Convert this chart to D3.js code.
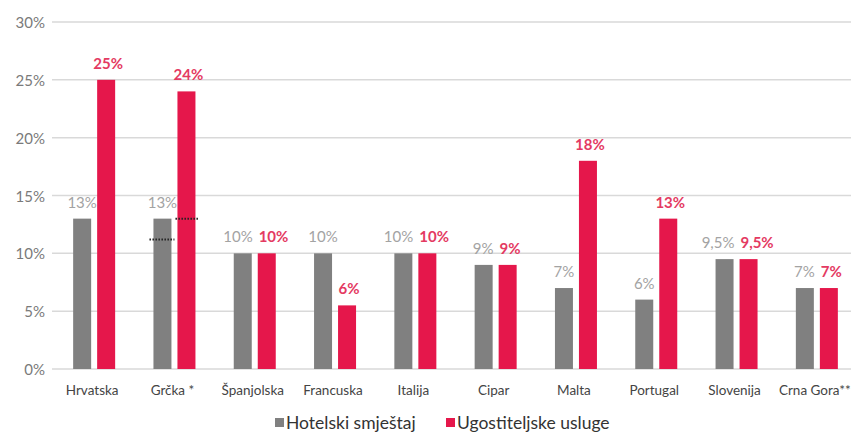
<!DOCTYPE html>
<html>
<head>
<meta charset="utf-8">
<script src="https://cdn.jsdelivr.net/npm/d3@7"></script>
<style>
  body { margin: 0; background: white; }
  svg { display: block; }
</style>
</head>
<body>
<div id="chart"></div>
<script>
// chart values
const countries = ["Hrvatska", "Grčka *", "Španjolska", "Francuska", "Italija", "Cipar", "Malta", "Portugal", "Slovenija", "Crna Gora**"];
const hotelValues = [13, 13, 10, 10, 10, 9, 7, 6, 9.5, 7];
const hotelLabels = ["13%", "13%", "10%", "10%", "10%", "9%", "7%", "6%", "9,5%", "7%"];
const foodValues = [25, 24, 10, 5.5, 10, 9, 18, 13, 9.5, 7];
const foodLabels = ["25%", "24%", "10%", "6%", "10%", "9%", "18%", "13%", "9,5%", "7%"];
const seriesNames = ["Hotelski smještaj", "Ugostiteljske usluge"];
const yTicks = [0, 5, 10, 15, 20, 25, 30];
// dotted reference marks on Grčka (hotel, food)
const greekMarks = [11.2, 13];

const grey = "#808080";
const red = "#e5174b";
const font = "Lato, 'Open Sans', sans-serif";

const width = 862, height = 434;
const mLeft = 52, mRight = 855, mTop = 22, mBottom = 369;
const gridRight = 851;

const svg = d3.select("#chart").append("svg")
    .attr("width", width).attr("height", height);

const x = d3.scaleBand().domain(countries).range([mLeft, mRight]).paddingInner(0).paddingOuter(0);
const y = d3.scaleLinear().domain([0, 30]).range([mBottom, mTop]);

const barW = 18, gap = 6;

// grid + y labels
svg.append("g").selectAll("line").data(yTicks).enter().append("line")
    .attr("x1", mLeft).attr("x2", gridRight)
    .attr("y1", d => y(d)).attr("y2", d => y(d))
    .attr("stroke", "#d9d9d9").attr("stroke-width", 1.5);

svg.append("g").selectAll("text").data(yTicks).enter().append("text")
    .attr("x", 45).attr("y", d => y(d) + 6)
    .attr("text-anchor", "end")
    .attr("font-family", font).attr("font-size", 15)
    .attr("fill", "#7a7a7a")
    .text(d => d + "%");

let gx = d => x(d) + x.bandwidth() / 2 + 2;
let hotelX = d => gx(d) - gap / 2 - barW / 2;
let foodX = d => gx(d) + gap / 2 + barW / 2;

let g = svg.append("g");

// value labels (drawn first so bars sit over them, as in the original)
let hl = g.selectAll(".hl").data(countries).enter().append("text")
    .attr("x", d => hotelX(d))
    .attr("y", (d, i) => y(hotelValues[i]) - 11)
    .attr("text-anchor", "middle")
    .attr("font-family", font).attr("font-size", 15)
    .attr("fill", "#a3a3a3")
    .text((d, i) => hotelLabels[i]);

let fl = g.selectAll(".fl").data(countries).enter().append("text")
    .attr("x", d => foodX(d) + 2)
    .attr("y", (d, i) => y(foodValues[i]) - 11)
    .attr("text-anchor", "middle")
    .attr("font-family", font).attr("font-size", 15).attr("font-weight", "bold")
    .attr("fill", "#e43a62")
    .text((d, i) => foodLabels[i]);

// push side-by-side labels apart when they collide
let hn = hl.nodes(), fn = fl.nodes();
countries.forEach((c, i) => {
    if (Math.abs(y(hotelValues[i]) - y(foodValues[i])) > 14) return;
    let wh = hn[i].getComputedTextLength(), wf = fn[i].getComputedTextLength();
    let ch = hotelX(c), cf = foodX(c) + 2;
    let over = (ch + wh / 2 + 6) - (cf - wf / 2);
    if (over > 0) {
        d3.select(hn[i]).attr("x", ch - over / 2);
        d3.select(fn[i]).attr("x", cf + over / 2);
    }
});

// bars
g.selectAll(".hotel").data(countries).enter().append("rect")
    .attr("x", d => hotelX(d) - barW / 2)
    .attr("y", (d, i) => y(hotelValues[i]))
    .attr("width", barW)
    .attr("height", (d, i) => y(0) - y(hotelValues[i]))
    .attr("fill", grey);

g.selectAll(".food").data(countries).enter().append("rect")
    .attr("x", d => foodX(d) - barW / 2)
    .attr("y", (d, i) => y(foodValues[i]))
    .attr("width", barW)
    .attr("height", (d, i) => y(0) - y(foodValues[i]))
    .attr("fill", red);

// dotted marks on Grčka
let gc = gx(countries[1]);
svg.append("line")
    .attr("x1", gc - gap / 2 - barW - 4).attr("x2", gc - gap / 2 + 3)
    .attr("y1", y(greekMarks[0])).attr("y2", y(greekMarks[0]))
    .attr("stroke", "#222").attr("stroke-width", 2).attr("stroke-dasharray", "1.5,1.5");
svg.append("line")
    .attr("x1", gc + gap / 2 - 2).attr("x2", gc + gap / 2 + barW + 4)
    .attr("y1", y(greekMarks[1])).attr("y2", y(greekMarks[1]))
    .attr("stroke", "#222").attr("stroke-width", 2).attr("stroke-dasharray", "1.5,1.5");

// x labels
svg.append("g").selectAll("text").data(countries).enter().append("text")
    .attr("x", d => gx(d) - 2)
    .attr("y", 395)
    .attr("text-anchor", "middle")
    .attr("font-family", font).attr("font-size", 13.5)
    .attr("fill", "#444")
    .text(d => d);

// legend
const legX = [275, 446];
const legend = svg.append("g").selectAll("g").data(seriesNames).enter().append("g")
    .attr("transform", (d, i) => "translate(" + legX[i] + ",0)");
legend.append("rect").attr("x", 0).attr("y", 418).attr("width", 9).attr("height", 9)
    .attr("fill", (d, i) => i == 0 ? grey : red);
legend.append("text").attr("x", 11).attr("y", 429)
    .attr("font-family", font).attr("font-size", 17.5)
    .attr("fill", "#333")
    .text(d => d);
</script>
</body>
</html>
